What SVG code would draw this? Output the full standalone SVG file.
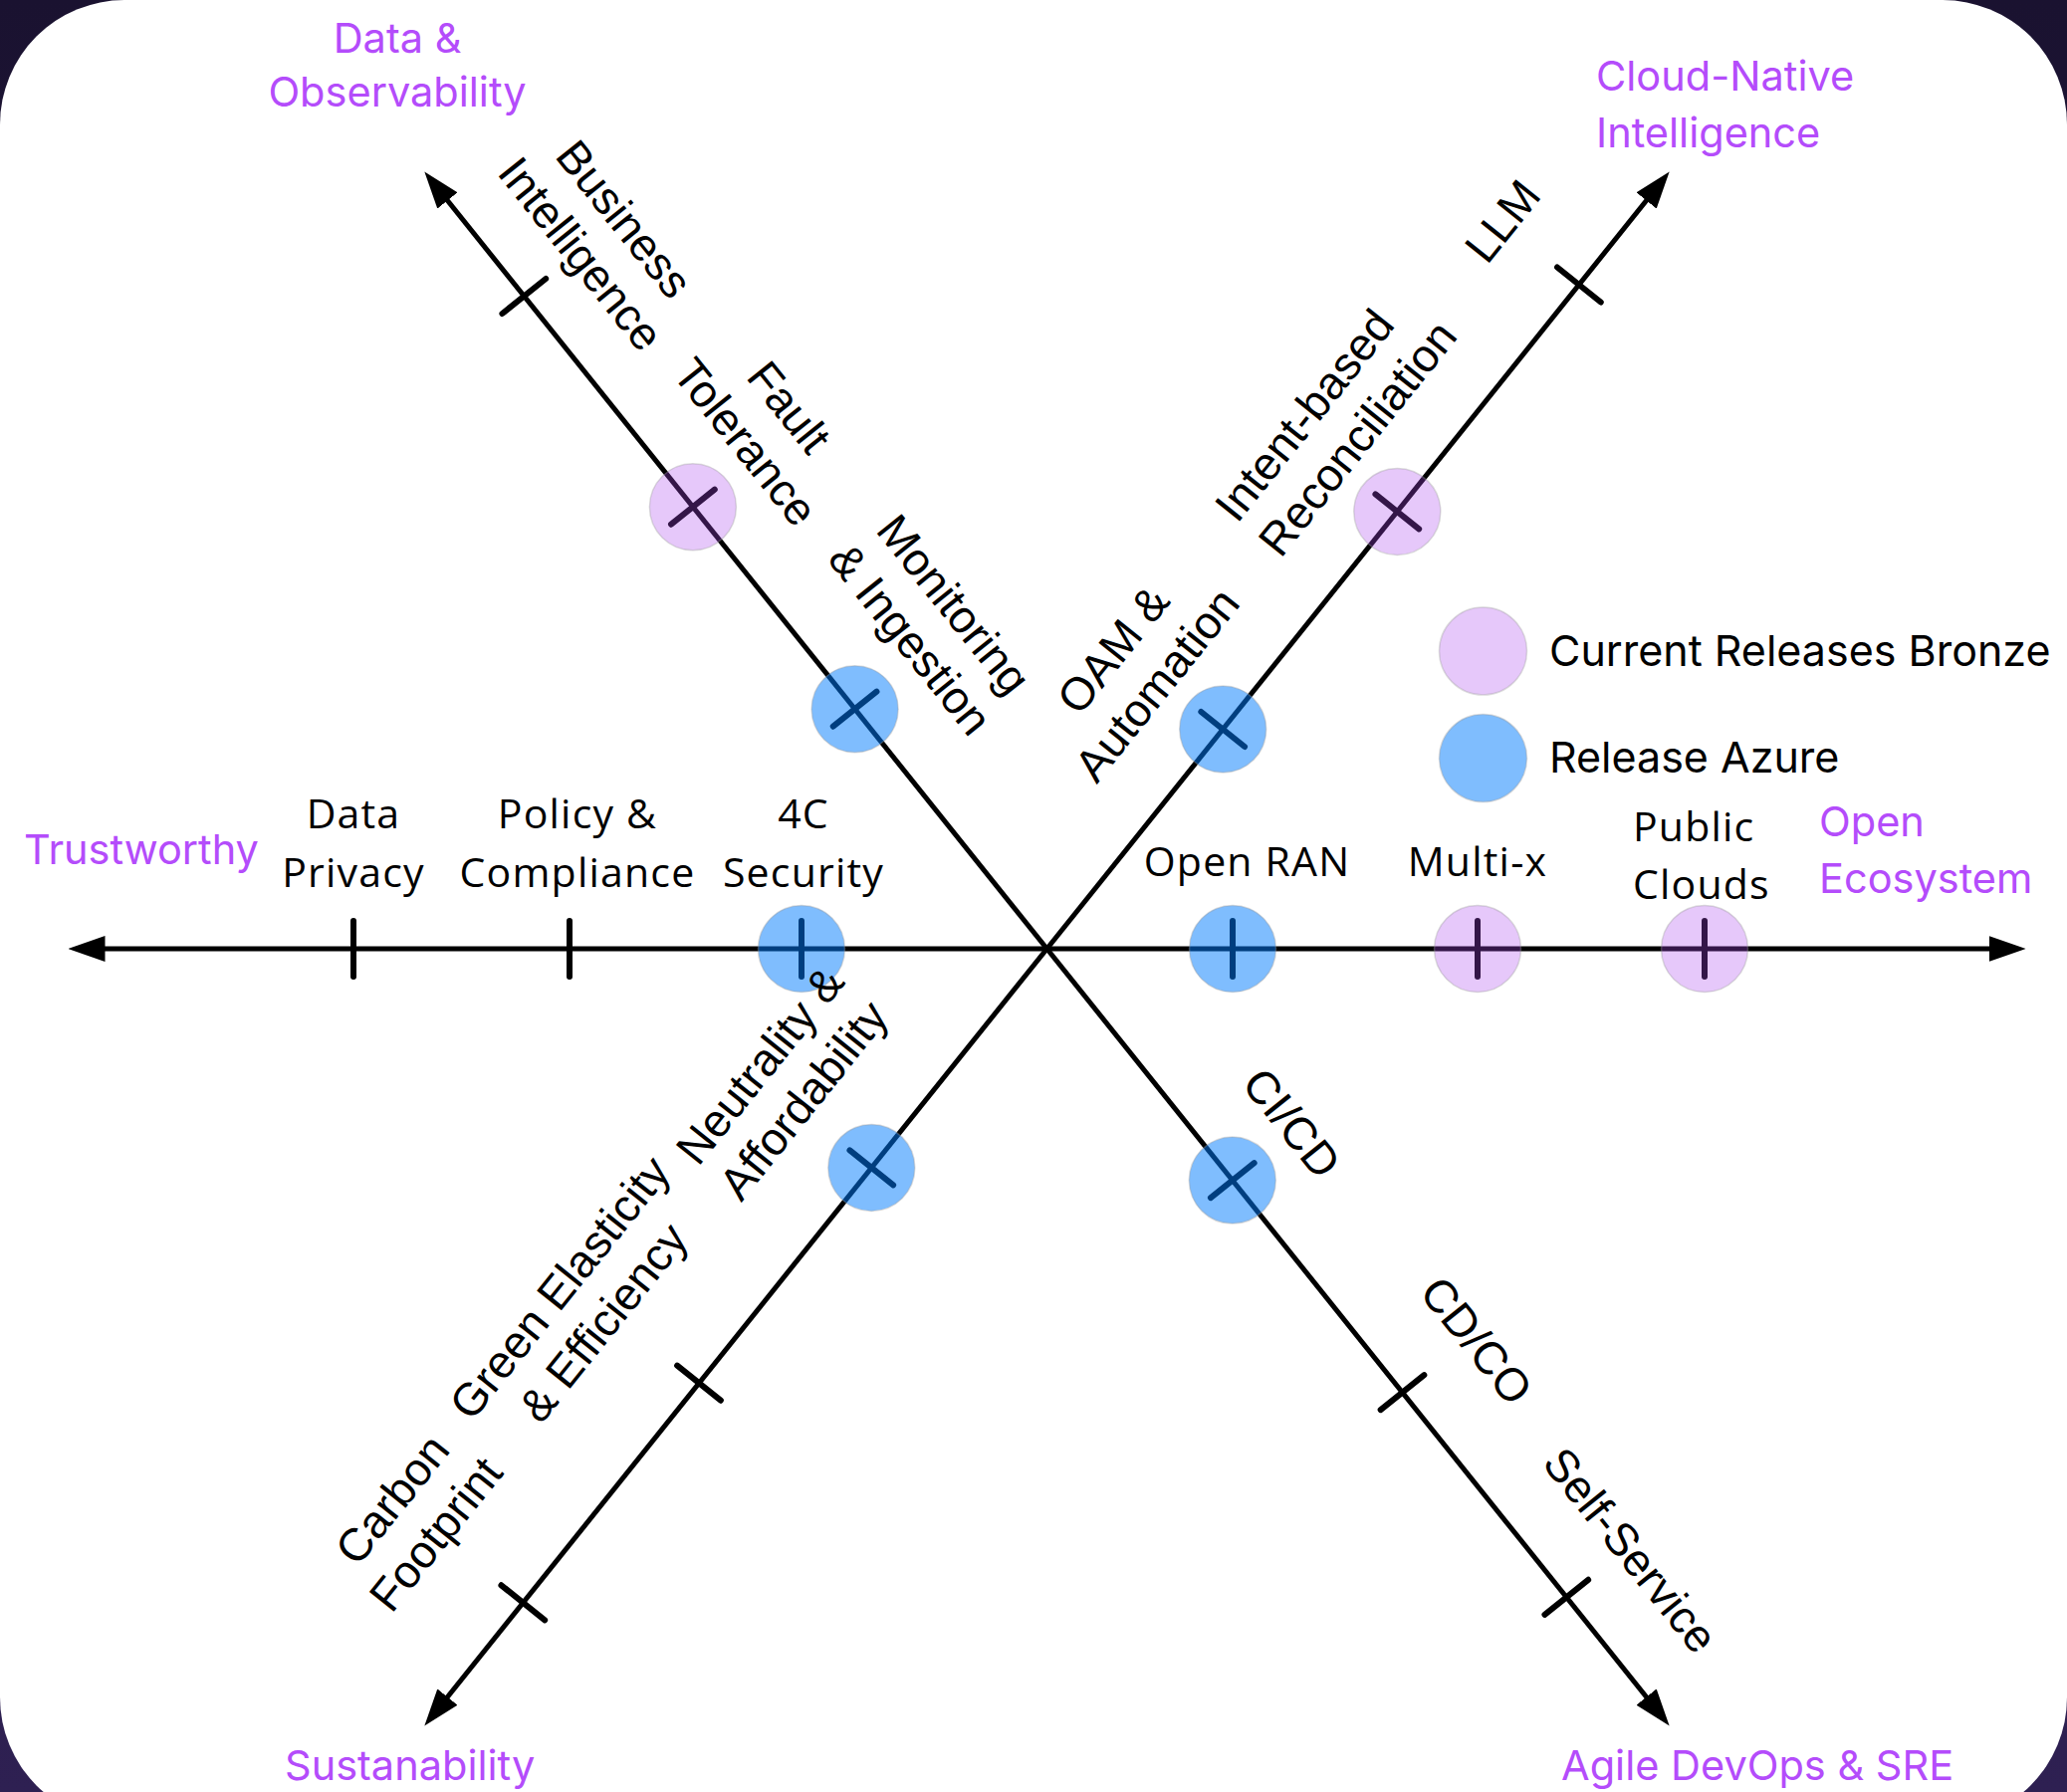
<svg xmlns="http://www.w3.org/2000/svg" width="2076" height="1800" viewBox="0 0 2076 1800">
  <defs>
    <linearGradient id="bg" x1="0" y1="0" x2="0" y2="1">
      <stop offset="0" stop-color="#1a1230"/>
      <stop offset="1" stop-color="#2e2052"/>
    </linearGradient>
    <marker id="arrow" viewBox="0 0 37 26" refX="7" refY="13" markerWidth="37" markerHeight="26" markerUnits="userSpaceOnUse" orient="auto">
      <path d="M0,0 L37,13 L0,26 z" fill="#000"/>
    </marker>
    <style>
      .axis { stroke:#000; stroke-width:5; fill:none; marker-end:url(#arrow); }
      .tick { stroke:#000; stroke-width:6; stroke-linecap:round; }
      .bronze { fill:#ac48ee; fill-opacity:0.3; stroke:#9a9a9a; stroke-opacity:0.35; stroke-width:1.5; }
      .azure { fill:#007cfe; fill-opacity:0.5; stroke:#9a9a9a; stroke-opacity:0.35; stroke-width:1.5; }
      .lbl { font-family:"Liberation Sans", Arial, sans-serif; font-size:46px; fill:#000; text-anchor:middle; }
      .hlbl { font-family:"Open Sans", "Liberation Sans", sans-serif; font-size:41px; letter-spacing:1.2px; fill:#000; text-anchor:middle; }
      .title { font-family:Inter, "Liberation Sans", sans-serif; font-size:41.5px; fill:#b44cfb; }
      .legend { font-family:Inter, "Liberation Sans", sans-serif; font-size:43px; fill:#000; }
    </style>
  </defs>

  <!-- backdrop and white card -->
  <rect x="0" y="0" width="2076" height="1800" fill="url(#bg)"/>
  <rect x="0" y="0" width="2076" height="1830" rx="125" ry="125" fill="#fff"/>

  <!-- six axes radiating from the centre -->
  <g id="axes">
    <line class="axis" x1="1051.5" y1="953" x2="98.5" y2="953"/>
    <line class="axis" x1="1051.5" y1="953" x2="2004.5" y2="953"/>
    <line class="axis" x1="1051.5" y1="953" x2="445.1" y2="196"/>
    <line class="axis" x1="1051.5" y1="953" x2="1657.9" y2="196"/>
    <line class="axis" x1="1051.5" y1="953" x2="445.1" y2="1710"/>
    <line class="axis" x1="1051.5" y1="953" x2="1657.9" y2="1710"/>
  </g>

  <!-- Data & Observability axis -->
  <g id="node-business-intelligence">
    <line class="tick" x1="0" y1="-28" x2="0" y2="28" transform="translate(526.3,297.5) rotate(51.3)"/>
    <text class="lbl" transform="translate(604.5,238) rotate(51.3)"><tspan x="0" y="-13">Business</tspan><tspan x="0" y="43">Intelligence</tspan></text>
  </g>
  <g id="node-fault-tolerance">
    <line class="tick" x1="0" y1="-28" x2="0" y2="28" transform="translate(695.9,509.2) rotate(51.3)"/>
    <circle class="bronze" cx="695.9" cy="509.2" r="43.5"/>
    <text class="lbl" transform="translate(770,427) rotate(51.3)"><tspan x="0" y="-13">Fault</tspan><tspan x="0" y="43">Tolerance</tspan></text>
  </g>
  <g id="node-monitoring">
    <line class="tick" x1="0" y1="-28" x2="0" y2="28" transform="translate(858.6,712.2) rotate(51.3)"/>
    <circle class="azure" cx="858.6" cy="712.2" r="43.5"/>
    <text class="lbl" transform="translate(935.4,625) rotate(51.3)"><tspan x="0" y="-13">Monitoring</tspan><tspan x="0" y="43">&amp; Ingestion</tspan></text>
  </g>

  <!-- Cloud-Native Intelligence axis -->
  <g id="node-llm">
    <line class="tick" x1="0" y1="-28" x2="0" y2="28" transform="translate(1585.9,286) rotate(-51.3)"/>
    <text class="lbl" transform="translate(1509,222) rotate(-51.3)"><tspan x="0" y="16">LLM</tspan></text>
  </g>
  <g id="node-intent-reconciliation">
    <line class="tick" x1="0" y1="-28" x2="0" y2="28" transform="translate(1403.3,513.9) rotate(-51.3)"/>
    <circle class="bronze" cx="1403.3" cy="513.9" r="43.5"/>
    <text class="lbl" style="text-anchor:start" transform="translate(1337,429.5) rotate(-51.3)"><tspan x="-135" y="-13">Intent-based</tspan><tspan x="-135" y="43">Reconciliation</tspan></text>
  </g>
  <g id="node-oam-automation">
    <line class="tick" x1="0" y1="-28" x2="0" y2="28" transform="translate(1228.2,732.5) rotate(-51.3)"/>
    <circle class="azure" cx="1228.2" cy="732.5" r="43.5"/>
    <text class="lbl" transform="translate(1140.6,670.6) rotate(-51.3)"><tspan x="0" y="-13">OAM &amp;</tspan><tspan x="0" y="43">Automation</tspan></text>
  </g>

  <!-- Trustworthy axis -->
  <g id="node-data-privacy">
    <line class="tick" x1="355" y1="925" x2="355" y2="981"/>
    <text class="hlbl"><tspan x="355" y="832">Data</tspan><tspan x="355" y="891">Privacy</tspan></text>
  </g>
  <g id="node-policy-compliance">
    <line class="tick" x1="572" y1="925" x2="572" y2="981"/>
    <text class="hlbl"><tspan x="580" y="832">Policy &amp;</tspan><tspan x="580" y="891">Compliance</tspan></text>
  </g>
  <g id="node-4c-security">
    <line class="tick" x1="805" y1="925" x2="805" y2="981"/>
    <circle class="azure" cx="805" cy="953" r="43.5"/>
    <text class="hlbl"><tspan x="807" y="832">4C</tspan><tspan x="807" y="891">Security</tspan></text>
  </g>

  <!-- Open Ecosystem axis -->
  <g id="node-open-ran">
    <line class="tick" x1="1238" y1="925" x2="1238" y2="981"/>
    <circle class="azure" cx="1238" cy="953" r="43.5"/>
    <text class="hlbl" x="1252.5" y="880">Open RAN</text>
  </g>
  <g id="node-multi-x">
    <line class="tick" x1="1484" y1="925" x2="1484" y2="981"/>
    <circle class="bronze" cx="1484" cy="953" r="43.5"/>
    <text class="hlbl" x="1484" y="880">Multi-x</text>
  </g>
  <g id="node-public-clouds">
    <line class="tick" x1="1712" y1="925" x2="1712" y2="981"/>
    <circle class="bronze" cx="1712" cy="953" r="43.5"/>
    <text class="hlbl" style="text-anchor:start"><tspan x="1640" y="845">Public</tspan><tspan x="1640" y="903">Clouds</tspan></text>
  </g>

  <!-- Sustanability axis -->
  <g id="node-carbon-footprint">
    <line class="tick" x1="0" y1="-28" x2="0" y2="28" transform="translate(525.3,1609.8) rotate(-51.3)"/>
    <text class="lbl" transform="translate(416.4,1524) rotate(-51.3)"><tspan x="0" y="-13">Carbon</tspan><tspan x="0" y="43">Footprint</tspan></text>
  </g>
  <g id="node-green-elasticity">
    <line class="tick" x1="0" y1="-28" x2="0" y2="28" transform="translate(702,1389.2) rotate(-51.3)"/>
    <text class="lbl" transform="translate(584.5,1311.4) rotate(-51.3)"><tspan x="0" y="-13">Green Elasticity</tspan><tspan x="0" y="43">&amp; Efficiency</tspan></text>
  </g>
  <g id="node-neutrality-affordability">
    <line class="tick" x1="0" y1="-28" x2="0" y2="28" transform="translate(875.3,1172.9) rotate(-51.3)"/>
    <circle class="azure" cx="875.3" cy="1172.9" r="43.5"/>
    <text class="lbl" transform="translate(785.8,1088) rotate(-51.3)"><tspan x="0" y="-13">Neutrality &amp;</tspan><tspan x="0" y="43">Affordability</tspan></text>
  </g>

  <!-- Agile DevOps & SRE axis -->
  <g id="node-ci-cd">
    <line class="tick" x1="0" y1="-28" x2="0" y2="28" transform="translate(1237.8,1185.6) rotate(51.3)"/>
    <circle class="azure" cx="1237.8" cy="1185.6" r="43.5"/>
    <text class="lbl" transform="translate(1297.5,1128) rotate(51.3)"><tspan x="0" y="16">CI/CD</tspan></text>
  </g>
  <g id="node-cd-co">
    <line class="tick" x1="0" y1="-28" x2="0" y2="28" transform="translate(1408.5,1398.6) rotate(51.3)"/>
    <text class="lbl" transform="translate(1483,1346.5) rotate(51.3)"><tspan x="0" y="16">CD/CO</tspan></text>
  </g>
  <g id="node-self-service">
    <line class="tick" x1="0" y1="-28" x2="0" y2="28" transform="translate(1573.3,1604.3) rotate(51.3)"/>
    <text class="lbl" transform="translate(1637.8,1557) rotate(51.3)"><tspan x="0" y="16">Self-Service</tspan></text>
  </g>

  <!-- axis titles -->
  <g id="title-data-observability">
    <text class="title" style="text-anchor:middle"><tspan x="399" y="53">Data &amp;</tspan><tspan x="399" y="107">Observability</tspan></text>
  </g>
  <g id="title-cloud-native">
    <text class="title"><tspan x="1603" y="91">Cloud-Native</tspan><tspan x="1603" y="148">Intelligence</tspan></text>
  </g>
  <g id="title-trustworthy">
    <text class="title" x="24" y="868">Trustworthy</text>
  </g>
  <g id="title-open-ecosystem">
    <text class="title"><tspan x="1827" y="840">Open</tspan><tspan x="1827" y="897">Ecosystem</tspan></text>
  </g>
  <g id="title-sustanability">
    <text class="title" x="286" y="1788">Sustanability</text>
  </g>
  <g id="title-agile-devops">
    <text class="title" x="1568" y="1788">Agile DevOps &amp; SRE</text>
  </g>

  <!-- legend -->
  <g id="legend">
    <circle class="bronze" cx="1489.5" cy="654" r="44"/>
    <text class="legend" x="1556" y="669">Current Releases Bronze</text>
    <circle class="azure" cx="1489.5" cy="761.5" r="44"/>
    <text class="legend" x="1556" y="776">Release Azure</text>
  </g>
</svg>
